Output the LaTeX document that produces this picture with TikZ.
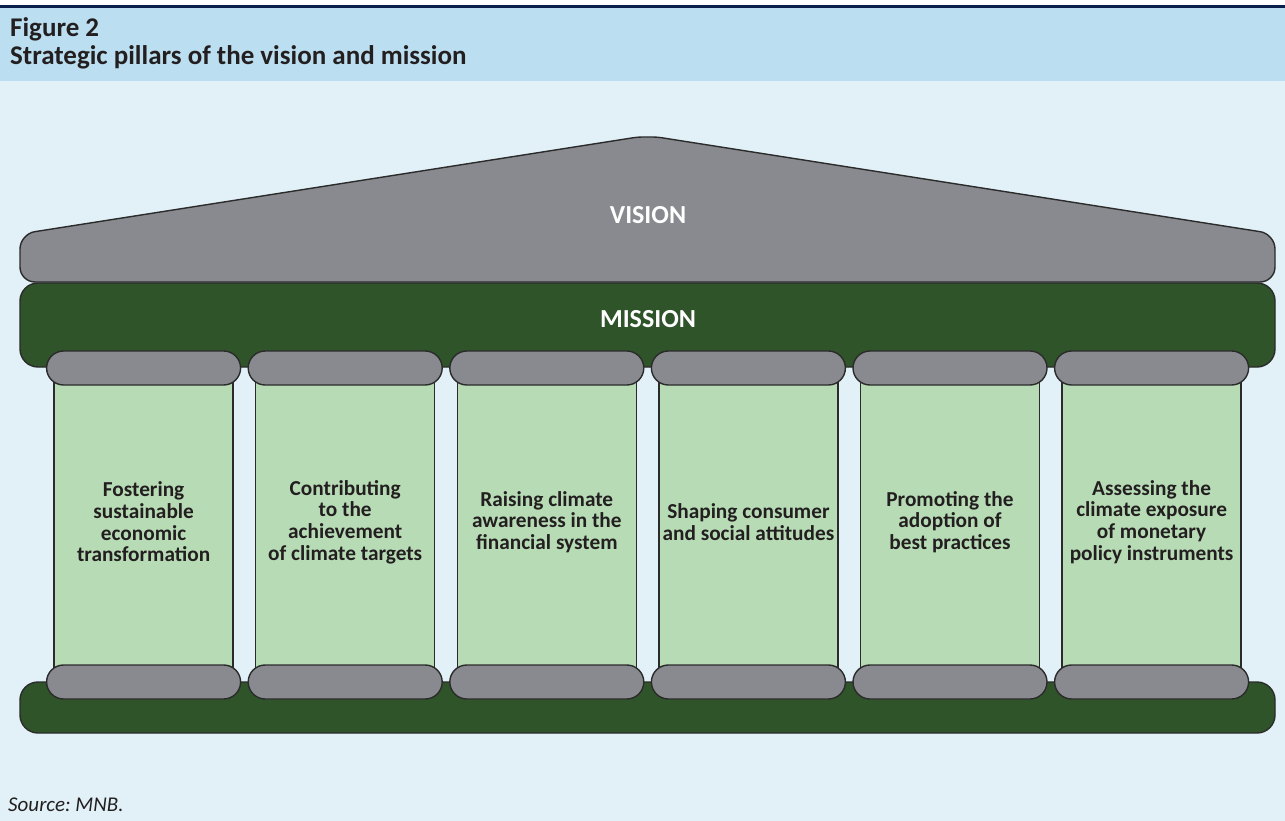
\documentclass[tikz,border=0pt]{standalone}
\usepackage{fontspec}
\setmainfont{Carlito}
\frenchspacing
\definecolor{navyC}{HTML}{0B1F4D}
\definecolor{headC}{HTML}{BBDFF0}
\definecolor{bodyC}{HTML}{E2F1F8}
\definecolor{grayC}{HTML}{898A8F}
\definecolor{greenC}{HTML}{2F5429}
\definecolor{pillarC}{HTML}{B7DCB5}
\definecolor{lineC}{HTML}{2B2B2B}
\definecolor{textC}{HTML}{231F20}
\begin{document}
\begin{tikzpicture}[x=1pt,y=-1pt,
  outline/.style={draw=lineC, line width=1.4pt},
  capbox/.style={outline, fill=grayC, rounded corners=17pt, minimum width=194pt, minimum height=34pt, inner sep=0pt},
  pillarbox/.style={outline, fill=pillarC, minimum width=179pt, minimum height=300pt, inner sep=0pt},
  pillartext/.style={font=\bfseries\fontsize{21.3}{21.7}\selectfont, text=textC, align=center, inner sep=0pt},
  bigtext/.style={font=\bfseries\fontsize{26}{30}\selectfont, text=white, inner sep=0pt},
  headtext/.style={font=\bfseries\fontsize{27}{30}\selectfont, text=textC, anchor=base west, inner sep=0pt}]
% background
\useasboundingbox (0,0) rectangle (1285,821);
\fill[white] (0,0) rectangle (1285,821);
\fill[bodyC] (0,81) rectangle (1285,821);
\fill[headC] (0,8.3) rectangle (1285,81);
\fill[navyC] (0,5) rectangle (1285,8.3);
\node[headtext] (fig) at (10,36.5) {Figure 2};
\node[headtext] (title) at (10,65) {Strategic pillars of the vision and mission};
% roof
\draw[outline, fill=grayC, rounded corners=15pt] (647.5,282) -- (20,282) -- (20,234) [rounded corners=5pt] -- (638,137) -- (657,137) [rounded corners=15pt] -- (1275,234) -- (1275,282) -- cycle;
\node[bigtext] (vision) at (648,215.5) {VISION};
% mission band
\node[outline, fill=greenC, rounded corners=18pt, minimum width=1255pt, minimum height=84pt, inner sep=0pt] (mission) at (647.5,325) {};
\node[bigtext] (missiontext) at (648,319) {MISSION};
% base
\node[outline, fill=greenC, rounded corners=18pt, minimum width=1255pt, minimum height=51pt, inner sep=0pt] (base) at (647.5,707.5) {};
% pillars
\foreach \i/\t in {1/{Fostering\\sustainable\\economic\\transformation},
                   2/{Contributing\\to the\\achievement\\of climate targets},
                   3/{Raising climate\\awareness in the\\financial system},
                   4/{Shaping consumer\\and social attitudes},
                   5/{Promoting the\\adoption of\\best practices},
                   6/{Assessing the\\climate exposure\\of monetary\\policy instruments}}{
  \pgfmathsetmacro{\cx}{143.6+201.6*(\i-1)}
  \node[pillarbox] (p\i) at (\cx,525) {};
  \node[capbox] (ct\i) at (\cx,368) {};
  \node[capbox] (cb\i) at (\cx,682) {};
  \node[pillartext] (t\i) at (\cx,522) {\t};
}
% source
\node[font=\itshape\fontsize{21}{24}\selectfont, text=textC, anchor=base west, inner sep=0pt] (source) at (8,811) {Source: MNB.};
\end{tikzpicture}
\end{document}
